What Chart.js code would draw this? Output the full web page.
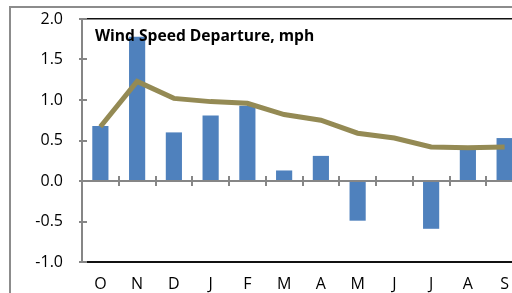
<!DOCTYPE html>
<html>
<head>
<meta charset="utf-8">
<script src="https://cdn.jsdelivr.net/npm/chart.js@4"></script>
<style>
  html, body { margin: 0; padding: 0; background: #fff; overflow: hidden; }
  #wrap { width: 540px; height: 293px; }
</style>
</head>
<body>
<div id="wrap"><canvas id="windChart" width="540" height="293"></canvas></div>
<script>
// ===== DATA =====
const months = ['O', 'N', 'D', 'J', 'F', 'M', 'A', 'M', 'J', 'J', 'A', 'S'];
const departure = [0.68, 1.78, 0.60, 0.81, 0.93, 0.13, 0.31, -0.49, 0, -0.59, 0.40, 0.53];
const trend = [0.67, 1.23, 1.02, 0.98, 0.96, 0.82, 0.75, 0.59, 0.53, 0.42, 0.41, 0.42];
const yTicks = [-1.0, -0.5, 0.0, 0.5, 1.0, 1.5, 2.0];
const chartTitle = 'Wind Speed Departure, mph';

const FONT = "'Open Sans', 'Liberation Sans', sans-serif";

// outer frame, plot frame, zero axis with tick marks, title
const decor = {
  id: 'decor',
  afterDatasetsDraw(chart) {
    const c = chart.ctx;
    const a = chart.chartArea;
    const x = chart.scales.x;
    const y = chart.scales.y;
    c.save();
    c.fillStyle = '#111';
    c.fillRect(a.left, a.top - 1, a.right - a.left, 1.5);
    c.fillRect(a.left, a.bottom - 1, a.right - a.left, 2);
    c.fillStyle = '#868686';
    c.fillRect(a.left - 1, a.top, 2, a.bottom - a.top);
    yTicks.forEach(v => {
      const py = Math.round(y.getPixelForValue(v));
      c.fillRect(a.left - 3, py - 1, 8, 2);
    });
    const y0 = Math.round(y.getPixelForValue(0));
    c.fillRect(a.left, y0 - 1, a.right - a.left, 2);
    for (let i = 0; i < months.length - 1; i++) {
      const px = Math.round((x.getPixelForValue(i) + x.getPixelForValue(i + 1)) / 2);
      c.fillRect(px - 1, y0 - 5, 2, 10);
    }
    c.restore();
  },
  afterDraw(chart) {
    const c = chart.ctx;
    const a = chart.chartArea;
    c.save();
    c.fillStyle = '#8c8c8c';
    c.fillRect(9, 6, 2, chart.height - 6);
    c.fillRect(9, 6, a.right - 9, 2);
    c.fillStyle = '#000';
    c.font = "bold 15.6px " + FONT;
    c.textBaseline = 'middle';
    c.fillText(chartTitle, a.left + 13, a.top + 18);
    c.restore();
  }
};

new Chart(document.getElementById('windChart'), {
  type: 'bar',
  data: {
    labels: months,
    datasets: [
      {
        type: 'line',
        data: trend,
        borderColor: '#948a54',
        borderWidth: 5,
        pointRadius: 0,
        tension: 0,
        order: 0
      },
      {
        type: 'bar',
        data: departure,
        backgroundColor: '#4f81bd',
        borderWidth: 0,
        categoryPercentage: 1,
        barPercentage: 0.44,
        order: 1
      }
    ]
  },
  options: {
    responsive: false,
    devicePixelRatio: 1,
    animation: false,
    layout: { padding: { left: 10, top: 19, right: 17, bottom: 0 } },
    plugins: { legend: { display: false }, tooltip: { enabled: false } },
    scales: {
      x: {
        grid: { display: false, drawTicks: false },
        border: { display: false },
        ticks: { color: '#000', font: { family: FONT, size: 16 }, padding: 13, maxRotation: 0 },
        afterFit(scale) {
          scale.height = 31;
          scale.paddingTop = 0;
          scale.paddingBottom = 0;
        }
      },
      y: {
        min: -1,
        max: 2,
        grid: { display: false, drawTicks: false },
        border: { display: false },
        ticks: {
          stepSize: 0.5,
          color: '#000',
          padding: 19,
          font: { family: FONT, size: 16 },
          callback: v => v.toFixed(1)
        },
        afterFit(scale) {
          scale.width = 72;
          scale.paddingTop = 0;
          scale.paddingBottom = 0;
        }
      }
    }
  },
  plugins: [decor]
});
</script>
</body>
</html>
